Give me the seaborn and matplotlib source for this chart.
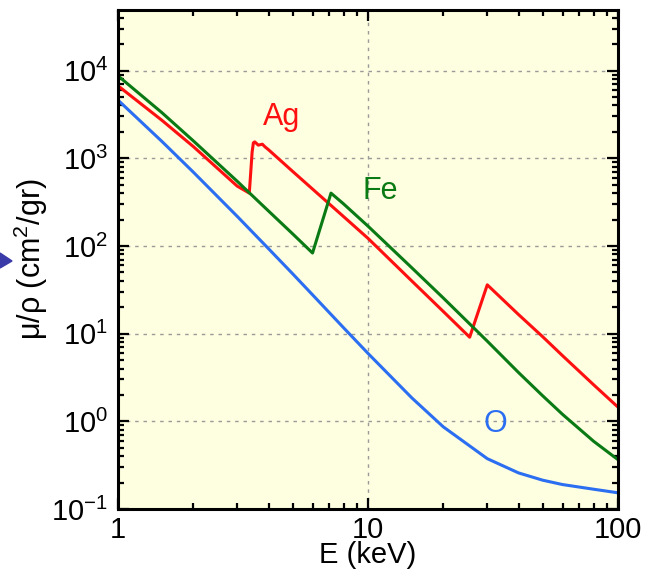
import numpy as np
import pandas as pd
import matplotlib
matplotlib.use("Agg")
import matplotlib.pyplot as plt
import matplotlib.ticker as mticker
from matplotlib.patches import Polygon
import seaborn as sns

# ---- data ----
o_energy = [1, 1.5, 2, 3, 4, 5, 6, 8, 10, 15, 20, 30, 40, 50, 60, 80, 100]
o_mu = [4600, 1550, 695, 217, 93, 48, 27.7, 11.6, 5.95, 1.84, 0.865, 0.375,
        0.258, 0.213, 0.19, 0.168, 0.153]

fe_energy = [1, 1.5, 2, 3, 4, 5, 6, 7.112, 8, 10, 15, 20, 30, 40, 50, 60, 80, 100]
fe_mu = [8700, 3300, 1580, 545, 250, 137, 83, 400, 300, 168, 56, 25.5, 8.2,
         3.6, 1.95, 1.2, 0.59, 0.365]

ag_energy = [1, 1.5, 2, 3, 3.351, 3.44, 3.48, 3.524, 3.64, 3.78, 3.87, 4, 5, 6,
             8, 10, 15, 20, 25.51, 30, 40, 50, 60, 80, 100]
ag_mu = [6700, 2700, 1360, 480, 400, 1180, 1500, 1535, 1410, 1445, 1350, 1250,
         706, 445, 215, 122, 39.6, 17.9, 9.1, 36, 16.5, 9.2, 5.6, 2.6, 1.45]

labels = ["Ag", "Fe", "O"]
colors = {"Ag": "#ff1010", "Fe": "#0a7a14", "O": "#2b6ef2"}
label_pos = {"Ag": (3.79, 2400), "Fe": (9.5, 345), "O": (29.0, 0.75)}

x_ticks = [1, 10, 100]
y_ticks = [0.1, 1, 10, 100, 1000, 10000]

df = pd.concat([
    pd.DataFrame({"E": ag_energy, "mu": ag_mu, "el": "Ag"}),
    pd.DataFrame({"E": fe_energy, "mu": fe_mu, "el": "Fe"}),
    pd.DataFrame({"E": o_energy, "mu": o_mu, "el": "O"}),
], ignore_index=True)

sns.set_theme(style="ticks")
plt.rcParams["font.family"] = ["Liberation Sans", "DejaVu Sans"]
plt.rcParams["mathtext.fontset"] = "custom"
plt.rcParams["mathtext.rm"] = "Liberation Sans"
plt.rcParams["mathtext.it"] = "Liberation Sans:italic"
plt.rcParams["text.color"] = "black"
plt.rcParams["axes.labelcolor"] = "black"
plt.rcParams["xtick.color"] = "black"
plt.rcParams["ytick.color"] = "black"

fig = plt.figure(figsize=(6.48, 5.73), dpi=100)
ax = fig.add_axes([118 / 648, 1 - 509 / 573, 500 / 648, 499 / 573])
ax.set_facecolor("#fefee0")

sns.lineplot(data=df, x="E", y="mu", hue="el", palette=colors,
             hue_order=labels, estimator=None, sort=False, linewidth=2.2,
             legend=False, ax=ax)

ax.set_xscale("log")
ax.set_yscale("log")
ax.set_xlim(1, 100)
ax.set_ylim(0.1, 4.9e4)

ax.xaxis.set_major_locator(mticker.FixedLocator(x_ticks))
ax.xaxis.set_major_formatter(mticker.FuncFormatter(lambda v, p: f"{v:g}"))
ax.xaxis.set_minor_locator(mticker.LogLocator(base=10, subs=np.arange(2, 10), numticks=20))
ax.xaxis.set_minor_formatter(mticker.NullFormatter())
ax.yaxis.set_major_locator(mticker.FixedLocator(y_ticks))
ax.yaxis.set_major_formatter(mticker.LogFormatterSciNotation())
ax.yaxis.set_minor_locator(mticker.LogLocator(base=10, subs=np.arange(2, 10), numticks=20))
ax.yaxis.set_minor_formatter(mticker.NullFormatter())

ax.tick_params(which="both", direction="in", top=True, right=True,
               color="black", labelcolor="black", width=1.6)
ax.tick_params(which="major", length=8, labelsize=21, pad=7)
ax.tick_params(axis="x", which="major", pad=5)
ax.tick_params(which="minor", length=4.5)

for s in ax.spines.values():
    s.set_linewidth(2.2)
    s.set_color("black")

ax.grid(which="major", color="#9a9a9a", linestyle=(0, (2.5, 3.5)), linewidth=1)
ax.grid(which="minor", visible=False)

ax.set_xlabel("E (keV)", fontsize=21, labelpad=-2)
ax.set_ylabel("μ/ρ (cm$^2$/gr)", fontsize=22, labelpad=1)

for el in labels:
    x, y = label_pos[el]
    ax.text(x, y, el, color=colors[el], fontsize=22, ha="left", va="baseline")

tri = Polygon([[0 / 648, 1 - 253 / 573], [12 / 648, 1 - 261 / 573],
               [0 / 648, 1 - 268 / 573]], closed=True,
              transform=fig.transFigure, color="#3a3aa8", clip_on=False)
fig.add_artist(tri)

fig.savefig("out.png", dpi=100)
